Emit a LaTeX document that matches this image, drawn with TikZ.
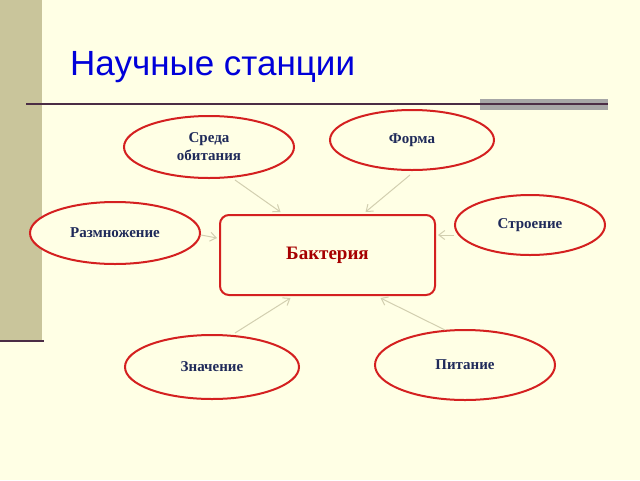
\documentclass[tikz,border=0pt]{standalone}
\usepackage{fontspec}
\setmainfont{Liberation Serif}
\newfontfamily\titlefont{Liberation Sans}
\usetikzlibrary{arrows.meta,shapes.geometric}
\definecolor{bg}{HTML}{FFFFE5}
\definecolor{bar}{HTML}{C9C59B}
\definecolor{navy}{HTML}{1F2A5A}
\definecolor{ered}{HTML}{D42020}
\definecolor{arr}{HTML}{D2CFB0}
\definecolor{rule}{HTML}{4B2D45}
\tikzset{
  oval/.style={draw=ered,line width=2pt,ellipse,fill=bg,font=\bfseries\fontsize{15pt}{18pt}\selectfont,text=navy,align=center},
  link/.style={draw=arr,line width=1pt,-{Straight Barb[length=6pt,width=9pt]}}
}
\begin{document}
\begin{tikzpicture}[x=1pt,y=-1pt]
\useasboundingbox (0,0) rectangle (640,480);
\fill[bg] (0,0) rectangle (640,480);
\fill[bar] (0,0) rectangle (42,340);
\draw[rule,line width=2pt] (0,341) -- (44,341);
\node[anchor=base west,text=blue!85!black,font=\titlefont\fontsize{35pt}{40pt}\selectfont,inner sep=0] (title) at (70,75) {Научные станции};
\fill[gray!70] (480,99) rectangle (608,110);
\draw[rule,line width=2pt] (26,104) -- (608,104);
\node[oval,minimum width=170,minimum height=62,inner sep=0] (sreda) at (209,147) {Среда\\обитания};
\node[oval,minimum width=164,minimum height=60,inner sep=0] (forma) at (412,140) {Форма};
\node[oval,minimum width=170,minimum height=62,inner sep=0] (razm) at (115,233) {Размножение};
\node[oval,minimum width=150,minimum height=60,inner sep=0] (stroe) at (530,225) {Строение};
\node[oval,minimum width=174,minimum height=64,inner sep=0] (znach) at (212,367) {Значение};
\node[oval,minimum width=180,minimum height=70,inner sep=0] (pit) at (465,365) {Питание};
\node[draw=ered,line width=2pt,rounded corners=9pt,minimum width=215,minimum height=80,fill=bg,text=red!65!black,font=\bfseries\fontsize{19pt}{22pt}\selectfont] (bact) at (327.5,255) {Бактерия};
\path (sreda) ++(26,33) coordinate (s1) (bact.north) ++(-47,-2) coordinate (b1);
\path (forma) ++(-2,35) coordinate (f1) (bact.north) ++(38,-2) coordinate (b2);
\path (razm.east) ++(0,2) coordinate (r1) (bact.west) ++(-2,-17) coordinate (b3);
\path (stroe.west) ++(0,10) coordinate (t1) (bact.east) ++(2,-20) coordinate (b4);
\path (znach) ++(23,-34) coordinate (z1) (bact.south) ++(-37,2) coordinate (b5);
\path (pit) ++(-20,-35) coordinate (p1) (bact.south) ++(53,2) coordinate (b6);
\draw[link] (s1) -- (b1);
\draw[link] (f1) -- (b2);
\draw[link] (r1) -- (b3);
\draw[link] (t1) -- (b4);
\draw[link] (z1) -- (b5);
\draw[link] (p1) -- (b6);
\end{tikzpicture}
\end{document}
